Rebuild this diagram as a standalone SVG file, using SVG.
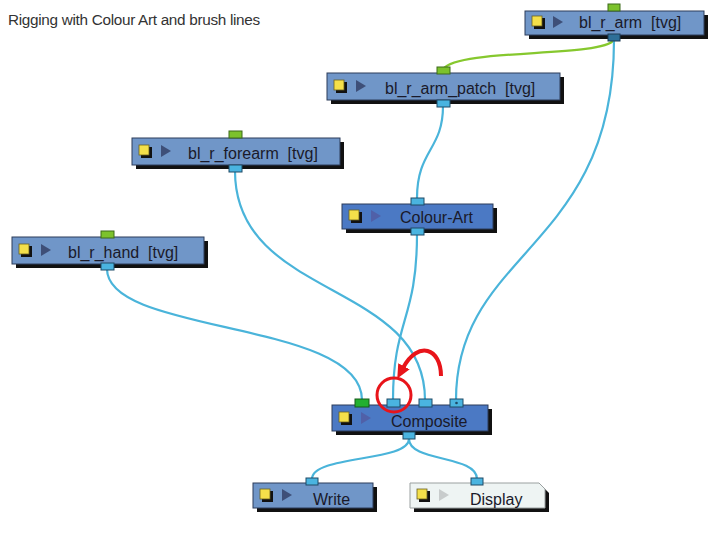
<svg xmlns="http://www.w3.org/2000/svg" width="714" height="555" viewBox="0 0 714 555">
<defs>
<style>
.title{font-family:"Liberation Sans",Arial,sans-serif;font-size:15.3px;fill:#333;letter-spacing:-0.3px}
.lbl{font-family:"Liberation Sans",Arial,sans-serif;font-size:16px;fill:#1a1a2a;white-space:pre}
.shadow{fill:#111}
.node{fill:#7096c8;stroke:#2d3d5a;stroke-width:1}
.node2{fill:#4b79c4;stroke:#2d3d5a;stroke-width:1}
.disp{fill:#eef4f3;stroke:#9aa0a0;stroke-width:1}
.ysh{fill:#111}
.yel{fill:#f4e04a;stroke:#6a6020;stroke-width:0.8}
.tri{fill:#3e4f78}
.tri2{fill:#5060a8}
.tri3{fill:#c8cccc}
.pb{fill:#4ab4e0;stroke:#1f4a66;stroke-width:1}
.pg{fill:#7cc22c;stroke:#3c6a1a;stroke-width:1}
.pgg{fill:#22b030;stroke:#145a18;stroke-width:1}
.wire{fill:none;stroke:#4ab4da;stroke-width:2.2}
.gwire{fill:none;stroke:#86c82e;stroke-width:2.2}
</style>
<marker id="ah" markerWidth="14" markerHeight="13" refX="2" refY="6.5" orient="auto" markerUnits="userSpaceOnUse">
<path d="M0,0 L14,6.5 L0,13 z" fill="#e8141a"/>
</marker>
</defs>
<rect width="714" height="555" fill="#ffffff"/>
<text class="title" x="8" y="25">Rigging with Colour Art and brush lines</text>

<g id="connectors">
<path class="gwire" d="M614,40 C 600,58 460,48 443,69"/>
<path class="wire" d="M614,40 C 614,250 456,250 456,400"/>
<path class="wire" d="M443,106 C 443,150 417,150 417,198"/>
<path class="wire" d="M417,234 C 417,320 393,320 393,400"/>
<path class="wire" d="M235,171 C 235,300 425,280 425,400"/>
<path class="wire" d="M107,269 C 107,335 362,320 362,400"/>
<path class="wire" d="M409,439 C 409,462 312,455 312,479"/>
<path class="wire" d="M409,439 C 409,462 477,455 477,479"/>
</g>

<g id="bl_r_arm">
<rect class="shadow" x="529" y="15" width="179" height="24"/>
<rect class="node" x="525" y="11" width="179" height="24"/>
<rect class="ysh" x="534" y="18" width="11" height="11"/>
<rect class="yel" x="532" y="16" width="10" height="10"/>
<path class="tri" d="M553,16 L563,22 L553,28 z"/>
<text class="lbl" x="579" y="28" xml:space="preserve">bl_r_arm  [tvg]</text>
<rect class="pg" x="608" y="4" width="12" height="7"/>
<rect x="608" y="34" width="12" height="7" fill="#2e6f98" stroke="#1a3a55"/>
</g>

<g id="bl_r_arm_patch">
<rect class="shadow" x="331" y="77" width="233" height="27"/>
<rect class="node" x="327" y="73" width="233" height="27"/>
<rect class="ysh" x="336" y="82" width="11" height="11"/>
<rect class="yel" x="334" y="80" width="10" height="10"/>
<path class="tri" d="M356,80 L366,86 L356,92 z"/>
<text class="lbl" x="385" y="94" xml:space="preserve">bl_r_arm_patch  [tvg]</text>
<rect class="pg" x="437" y="67" width="13" height="7"/>
<rect class="pb" x="437" y="100" width="13" height="7"/>
</g>

<g id="bl_r_forearm">
<rect class="shadow" x="136" y="142" width="208" height="27"/>
<rect class="node" x="132" y="138" width="208" height="27"/>
<rect class="ysh" x="141" y="147" width="11" height="11"/>
<rect class="yel" x="139" y="145" width="10" height="10"/>
<path class="tri" d="M161,145 L171,151 L161,157 z"/>
<text class="lbl" x="188" y="159" xml:space="preserve">bl_r_forearm  [tvg]</text>
<rect class="pg" x="229" y="131" width="13" height="7"/>
<rect class="pb" x="229" y="165" width="13" height="7"/>
</g>

<g id="Colour-Art">
<rect class="shadow" x="346" y="208" width="151" height="25"/>
<rect class="node2" x="342" y="204" width="151" height="25"/>
<rect class="ysh" x="351" y="212" width="11" height="11"/>
<rect class="yel" x="349" y="210" width="10" height="10"/>
<path class="tri2" d="M371,210 L381,216 L371,222 z"/>
<text class="lbl" x="400" y="223">Colour-Art</text>
<rect class="pb" x="411" y="198" width="13" height="7"/>
<rect class="pb" x="411" y="228" width="13" height="7"/>
</g>

<g id="bl_r_hand">
<rect class="shadow" x="16" y="241" width="192" height="27"/>
<rect class="node" x="12" y="237" width="192" height="27"/>
<rect class="ysh" x="21" y="246" width="11" height="11"/>
<rect class="yel" x="19" y="244" width="10" height="10"/>
<path class="tri" d="M41,244 L51,250 L41,256 z"/>
<text class="lbl" x="68" y="258" xml:space="preserve">bl_r_hand  [tvg]</text>
<rect class="pg" x="101" y="231" width="13" height="7"/>
<rect class="pb" x="101" y="263" width="13" height="7"/>
</g>

<g id="Composite">
<rect class="shadow" x="336" y="409" width="156" height="26"/>
<rect class="node2" x="332" y="405" width="156" height="26"/>
<rect class="ysh" x="341" y="414" width="11" height="11"/>
<rect class="yel" x="339" y="412" width="10" height="10"/>
<path class="tri2" d="M361,412 L371,418 L361,424 z"/>
<text class="lbl" x="391" y="427">Composite</text>
<rect class="pgg" x="355" y="399" width="14" height="8"/>
<rect class="pb" x="387" y="399" width="13" height="8"/>
<rect class="pb" x="419" y="399" width="13" height="8"/>
<rect class="pb" x="450" y="399" width="13" height="8"/>
<circle cx="456.5" cy="403" r="1.3" fill="#1f4a66"/>
<rect class="pb" x="403" y="432" width="12" height="7"/>
</g>

<g id="Write">
<rect class="shadow" x="257" y="487" width="120" height="25"/>
<rect class="node" x="253" y="483" width="120" height="25"/>
<rect class="ysh" x="262" y="491" width="11" height="11"/>
<rect class="yel" x="260" y="489" width="10" height="10"/>
<path class="tri" d="M282,489 L292,495 L282,501 z"/>
<text class="lbl" x="313" y="505">Write</text>
<rect class="pb" x="306" y="478" width="12" height="7"/>
</g>

<g id="Display">
<path class="shadow" d="M414,487 L543,487 L549,493 L549,512 L414,512 z"/>
<path class="disp" d="M410,483 L539,483 L545,489 L545,508 L410,508 z"/>
<rect class="ysh" x="419" y="491" width="11" height="11"/>
<rect class="yel" x="417" y="489" width="10" height="10"/>
<path class="tri3" d="M439,489 L449,495 L439,501 z"/>
<text class="lbl" x="470" y="505">Display</text>
<rect class="pb" x="471" y="478" width="12" height="7"/>
</g>

<g id="annotation">
<circle cx="394" cy="395" r="17" fill="none" stroke="#e8141a" stroke-width="3"/>
<path d="M441,376 C 441,348 418,340 403,368" fill="none" stroke="#e8141a" stroke-width="4" marker-end="url(#ah)"/>
</g>
</svg>
